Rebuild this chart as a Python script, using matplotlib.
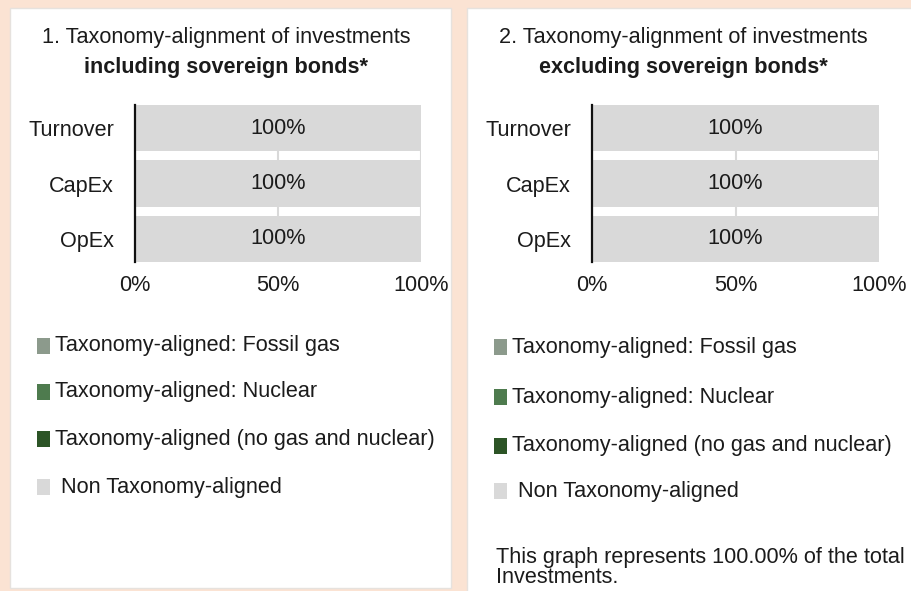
import matplotlib

matplotlib.use("Agg")
import matplotlib.pyplot as plt
from matplotlib.patches import Rectangle

plt.rcParams["font.family"] = ["Liberation Sans", "DejaVu Sans"]

# Data
categories = ["Turnover", "CapEx", "OpEx"]
non_aligned_incl = [100, 100, 100]
non_aligned_excl = [100, 100, 100]
x_ticks = [0, 50, 100]
x_tick_labels = ["0%", "50%", "100%"]
legend_labels = [
    "Taxonomy-aligned: Fossil gas",
    "Taxonomy-aligned: Nuclear",
    "Taxonomy-aligned (no gas and nuclear)",
    "Non Taxonomy-aligned",
]
legend_colors = ["#8c9a8c", "#4e7b4e", "#2c5426", "#d9d9d9"]
panel_titles = [
    ("1. Taxonomy-alignment of investments", "including sovereign bonds*"),
    ("2. Taxonomy-alignment of investments", "excluding sovereign bonds*"),
]
footnote = ["This graph represents 100.00% of the total", "Investments."]

BG = "#fbe3d3"
BAR = "#d9d9d9"
TXT = "#1b1b1b"
W, H = 911, 591
FS = 15.6

fig = plt.figure(figsize=(W / 100, H / 100), dpi=100, facecolor=BG)


def px(x, y):
    """Pixel position (top-left origin) -> figure fraction."""
    return x / W, 1 - y / H


# white panels behind everything
for x0, x1, y1 in [(10, 451, 588), (467, 915, 600)]:
    fig.patches.append(
        Rectangle(px(x0, y1), (x1 - x0) / W, (y1 - 8) / H, transform=fig.transFigure,
                  facecolor="white", edgecolor="#e6e2de", linewidth=1.0, zorder=-5)
    )


def draw_panel(values, title, ax_left, ax_right, title_x, legend_x, legend_ys):
    l, b = px(ax_left, 262)
    r, t = px(ax_right, 105)
    ax = fig.add_axes([l, b, r - l, t - b], zorder=2)
    ax.set_facecolor("white")
    ypos = range(len(categories))
    bar_h = 0.83
    ax.barh(ypos, values, height=bar_h, color=BAR, zorder=2)
    for y, v in zip(ypos, values):
        ax.text(v / 2, y, f"{v}%", ha="center", va="center", fontsize=FS, color=TXT, zorder=3)
    ax.set_xlim(0, 100)
    ax.set_ylim(len(categories) - 1 + bar_h / 2, -bar_h / 2)
    ax.set_yticks(list(ypos))
    ax.set_yticklabels(categories, fontsize=FS, color=TXT)
    ax.set_xticks(x_ticks)
    ax.set_xticklabels(x_tick_labels, fontsize=FS, color=TXT)
    ax.tick_params(axis="both", length=0)
    ax.tick_params(axis="y", pad=15)
    ax.tick_params(axis="x", pad=9)
    ax.xaxis.grid(True, color=BAR, linewidth=1.5, zorder=1)
    ax.set_axisbelow(True)
    for side in ("top", "right", "bottom"):
        ax.spines[side].set_visible(False)
    ax.spines["left"].set_color("#111111")
    ax.spines["left"].set_linewidth(1.6)
    ax.spines["left"].set_zorder(4)

    tx, ty = px(title_x, 37)
    fig.text(tx, ty, title[0], ha="center", va="center", fontsize=FS, color=TXT)
    tx, ty = px(title_x, 67)
    fig.text(tx, ty, title[1], ha="center", va="center", fontsize=FS,
             fontweight="bold", color=TXT)

    # legend as swatches + text
    for lab, col, ly in zip(legend_labels, legend_colors, legend_ys):
        sx, sy = px(legend_x, ly + 8)
        fig.patches.append(
            Rectangle((sx, sy), 13 / W, 16 / H, transform=fig.transFigure,
                      facecolor=col, edgecolor="none")
        )
        offset = 24 if lab.startswith("Non") else 18
        lx, lyf = px(legend_x + offset, ly)
        fig.text(lx, lyf, lab, ha="left", va="center", fontsize=FS, color=TXT)


draw_panel(non_aligned_incl, panel_titles[0], 135, 421, 226, 37, [346, 392, 439, 487])
draw_panel(non_aligned_excl, panel_titles[1], 592, 879, 683, 494, [347, 397, 446, 491])

fx, fy = px(496, 557)
fig.text(fx, fy, footnote[0], ha="left", va="center", fontsize=FS, color=TXT)
fx, fy = px(496, 583)
fig.text(fx, fy, footnote[1], ha="left", va="baseline", fontsize=FS, color=TXT)

fig.savefig("out.png", dpi=100, facecolor=BG)
